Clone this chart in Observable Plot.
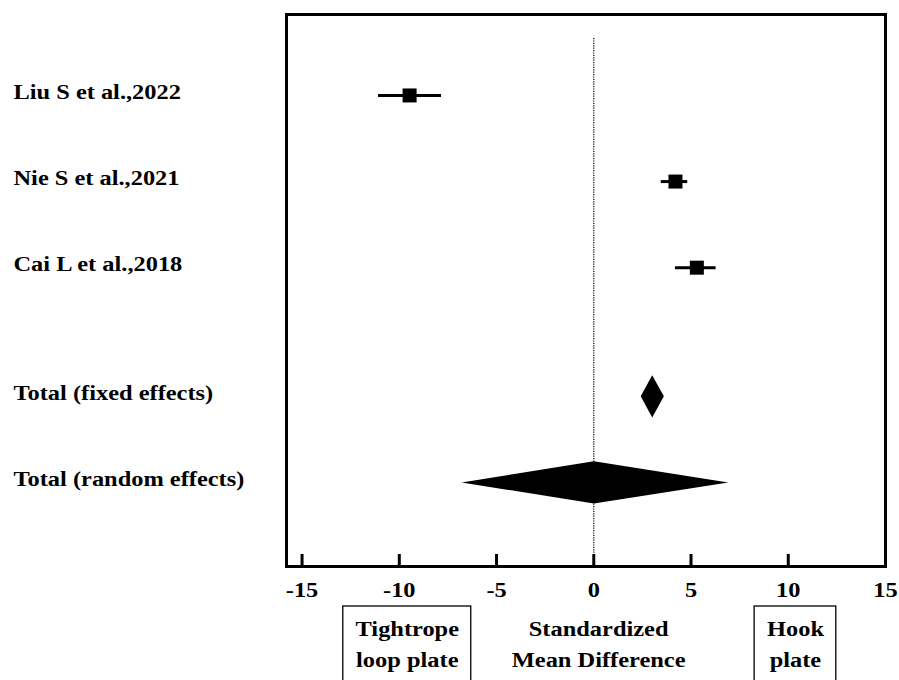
<!DOCTYPE html>
<html>
<head>
<meta charset="utf-8">
<script src="https://cdn.jsdelivr.net/npm/d3@7"></script>
<script src="https://cdn.jsdelivr.net/npm/@observablehq/plot@0.6"></script>
<style>
  body { margin: 0; background: white; }
</style>
</head>
<body>
<div id="chart"></div>
<script>
// Studies (row position, SMD, 95% CI)
const studyLabels = ["Liu S et al.,2022", "Nie S et al.,2021", "Cai L et al.,2018"];
const studyRows = [0, 1, 2];
const studyEst = [-9.47, 4.20, 5.30];
const studyLo = [-11.07, 3.47, 4.20];
const studyHi = [-7.83, 4.83, 6.29];

// Pooled estimates
const totalLabels = ["Total (fixed effects)", "Total (random effects)"];
const totalRows = [3.5, 4.5];
const totalEst = [3.03, 0.03];
const totalLo = [2.44, -6.77];
const totalHi = [3.63, 6.94];

// Axis ticks
const xTicks = [-15, -10, -5, 0, 5, 10, 15];

// Bottom annotations
const noteLine1 = ["Tightrope", "Standardized", "Hook"];
const noteLine2 = ["loop plate", "Mean Difference", "plate"];
const noteX = [-9.59, 0.25, 10.37];
const noteBoxed = [true, false, true];
const noteHalfWidth = [3.29, 0, 2.10];

const studies = studyLabels.map((label, i) => ({label, row: studyRows[i], est: studyEst[i], lo: studyLo[i], hi: studyHi[i]}));
const totals = totalLabels.map((label, i) => ({label, row: totalRows[i], est: totalEst[i], lo: totalLo[i], hi: totalHi[i]}));
const rowLabels = [...studies, ...totals];
const notes = noteLine1.map((l1, i) => ({l1, l2: noteLine2[i], x: noteX[i], boxed: noteBoxed[i], hw: noteHalfWidth[i]}));

// Diamond vertices (half height in y units)
const dh = 0.245;
const diamonds = totals.flatMap(t => [
  {label: t.label, x: t.lo, y1: t.row, y2: t.row},
  {label: t.label, x: t.est, y1: t.row - dh, y2: t.row + dh},
  {label: t.label, x: t.hi, y1: t.row, y2: t.row}
]);

const FS = 20;
const chart = Plot.plot({
  width: 899,
  height: 680,
  marginLeft: 286,
  marginRight: 14,
  marginTop: 14,
  marginBottom: 114,
  style: {fontFamily: "'Liberation Serif', 'Times New Roman', serif", fontWeight: "bold", fontSize: FS + "px", background: "white", color: "black"},
  x: {domain: [-15.8, 15], ticks: xTicks, label: null},
  y: {domain: [-0.94, 5.47], reverse: true, axis: null},
  marks: [
    Plot.ruleX([0], {stroke: "black", strokeWidth: 1.2, strokeDasharray: "1.2,1.2", insetTop: 24}),
    Plot.ruleY(studies, {y: "row", x1: "lo", x2: "hi", stroke: "black", strokeWidth: 3}),
    Plot.dot(studies, {x: "est", y: "row", symbol: "square", r: 7.9, fill: "black", stroke: null}),
    Plot.areaY(diamonds, {x: "x", y1: "y1", y2: "y2", z: "label", fill: "black", curve: "linear"}),
    Plot.text(rowLabels, {y: "row", text: "label", frameAnchor: "left", textAnchor: "start", dx: -273, dy: -3, fill: "black", fontSize: FS}),
    Plot.gridX(xTicks, {stroke: "black", strokeOpacity: 1, strokeWidth: 3, insetTop: 540}),
    Plot.frame({stroke: "black", strokeWidth: 3}),
    Plot.axisX({ticks: xTicks, tickSize: 0, tickPadding: 16, tickFormat: d => String(d), label: null, fontSize: FS, fill: "black"}),
    Plot.rect(notes.filter(d => d.boxed), {x1: d => d.x - d.hw, x2: d => d.x + d.hw, insetTop: 592, insetBottom: -130, fill: "none", stroke: "black", strokeWidth: 1.3}),
    Plot.text(notes, {x: "x", text: "l1", frameAnchor: "bottom", lineAnchor: "top", dy: 55, fill: "black", fontSize: FS}),
    Plot.text(notes, {x: "x", text: "l2", frameAnchor: "bottom", lineAnchor: "top", dy: 86, fill: "black", fontSize: FS})
  ]
});
document.getElementById("chart").appendChild(chart);

// The reference typeface is horizontally wide: stretch each label's glyphs
const STRETCH = 1.22;
chart.querySelectorAll("text").forEach(t => {
  const L = t.getComputedTextLength();
  if (L > 0) {
    t.setAttribute("textLength", (L * STRETCH).toFixed(1));
    t.setAttribute("lengthAdjust", "spacingAndGlyphs");
  }
});
</script>
</body>
</html>
